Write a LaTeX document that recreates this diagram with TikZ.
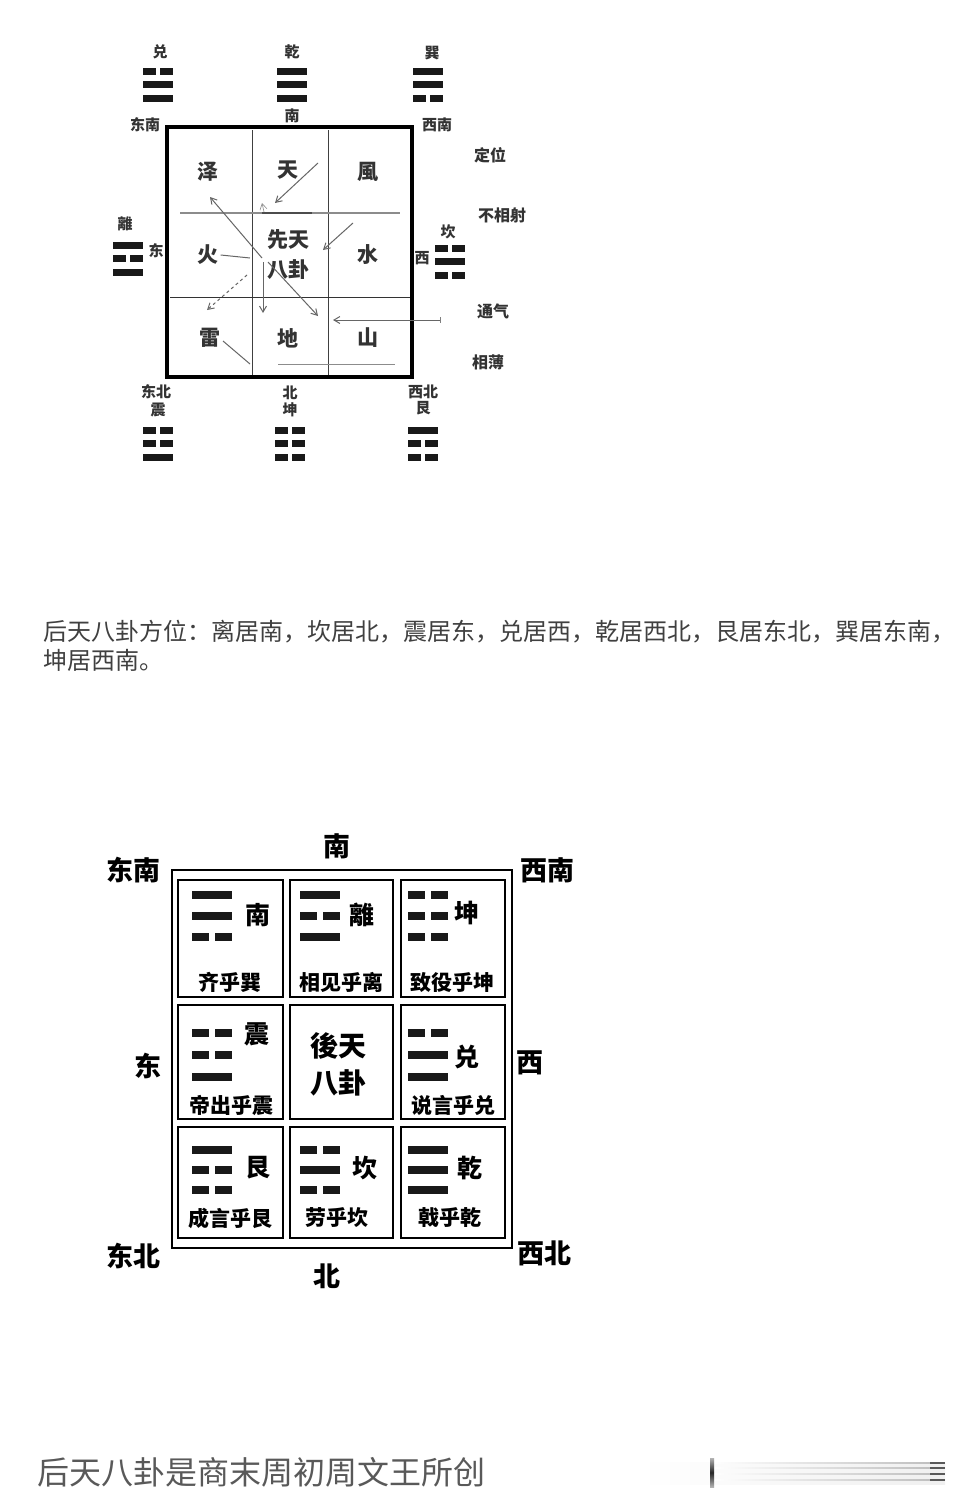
\documentclass[tikz,border=0pt]{standalone}
\usepackage{fontspec}
\newfontfamily\cjk{Noto Sans CJK SC}
\usetikzlibrary{arrows.meta}
\newcommand\yaoline[5]{\ifnum#5=1 \fill[black!90] (#1,#2-#4/2) rectangle ++(#3,#4);\else \fill[black!90] (#1,#2-#4/2) rectangle ++(0.42*#3,#4); \fill[black!90] (#1+0.58*#3,#2-#4/2) rectangle ++(0.42*#3,#4);\fi}
\newcommand\gua[8]{\yaoline{#1}{#2}{#3}{#5}{#6}\yaoline{#1}{#2+#4}{#3}{#5}{#7}\yaoline{#1}{#2+2*#4}{#3}{#5}{#8}}
\begin{document}
\begin{tikzpicture}[x=1pt,y=-1pt,
  lab/.style={font=\cjk\bfseries\fontsize{15}{15}\selectfont, text=black!80, inner sep=0},
  cell/.style={font=\cjk\bfseries\fontsize{21}{21}\selectfont, text=black!80, inner sep=0},
  side/.style={font=\cjk\bfseries\fontsize{16}{16}\selectfont, text=black!80, inner sep=0},
  arr/.style={draw=black!60, line width=1pt, -{Straight Barb[length=6pt,width=7pt]}},
  ln/.style={draw=black!60, line width=1pt},
  big/.style={font=\cjk\bfseries\fontsize{27}{27}\selectfont, inner sep=0},
  gname/.style={font=\cjk\bfseries\fontsize{25}{25}\selectfont, inner sep=0},
  phrase/.style={font=\cjk\bfseries\fontsize{21}{21}\selectfont, inner sep=0},
  box/.style={draw, line width=2pt}]
\useasboundingbox (0,0) rectangle (966,1507);
\fill[white] (0,0) rectangle (966,1507);

% ===== Top diagram (Xiantian) =====
\draw[line width=3.2pt] (167,127) rectangle (412,377);
\draw[line width=1pt, black!75] (252,130) -- (252,375);
\draw[line width=1pt, black!75] (328,130) -- (328,375);
\draw[line width=1pt, black!80] (170,297) -- (410,297);
\draw[line width=1.6pt, black!45] (180,213) -- (400,213);
\draw[line width=1.4pt, black!70] (262,213) -- (312,213);
\draw[line width=1pt, black!45] (278,364) -- (395,364);

\node[cell] (ze) at (208,172) {泽};
\node[cell] (tian) at (288,170) {天};
\node[cell] (feng) at (368,172) {風};
\node[cell] (huo) at (208,255) {火};
\node[cell] (xt) at (288,240) {先天};
\node[cell] (bg) at (288,270) {八卦};
\node[cell] (shui) at (368,255) {水};
\node[cell] (lei) at (210,338) {雷};
\node[cell] (di) at (288,338) {地};
\node[cell] (shan) at (368,338) {山};

\coordinate (c0) at (262,258);
\coordinate (ta) at (318,163); \coordinate (tb) at (275,203);
\coordinate (zb) at (210,197);
\coordinate (hb) at (250,258);
\coordinate (sa) at (353,223); \coordinate (sb) at (323,250);
\coordinate (la) at (247,275); \coordinate (lb) at (207,310);
\coordinate (da) at (263,262); \coordinate (db) at (263,313);
\coordinate (ea) at (268,262); \coordinate (eb) at (318,316);
\coordinate (ma) at (440,320); \coordinate (mb) at (333,320);
\coordinate (ra) at (223,341); \coordinate (rb) at (250,364);
\coordinate (ka) at (264,212); \coordinate (kb) at (262,203);

\draw[arr] (ta) -- (tb);
\draw[arr] (c0) -- (zb);
\draw[ln] (huo.east) ++(2,0) -- (hb);
\draw[arr] (sa) -- (sb);
\draw[arr, dashed] (la) -- (lb);
\draw[arr] (da) -- (db);
\draw[arr] (ea) -- (eb);
\draw[arr] (ma) -- (mb);
\draw[ln] (ra) -- (rb);
\draw[arr, black!45, line width=0.6pt] (ka) -- (kb);
\draw[ln, black!50, line width=0.6pt] (ma) ++(0,-3) -- ++(0,6);

% trigrams around top
\node[lab] (tdui) at (160,52) {兑};
\node[lab] (tqian) at (292,52) {乾};
\node[lab] (txun) at (432,53) {巽};
\node[lab] (tnan) at (292,116) {南};
\node[lab] (tdn) at (145,125) {东南};
\node[lab] (txn) at (437,125) {西南};
\node[lab] (tli) at (125,224) {離};
\node[lab] (tdong) at (156,251) {东};
\node[lab] (tkan) at (448,232) {坎};
\node[lab] (txi) at (422,258) {西};
\node[lab] (tdb) at (156,392) {东北};
\node[lab] (tzhen) at (158,410) {震};
\node[lab] (tbei) at (290,393) {北};
\node[lab] (tkun) at (290,410) {坤};
\node[lab] (txb) at (423,392) {西北};
\node[lab] (tgen) at (423,408) {艮};

\gua{143}{71}{30}{13.5}{7}{0}{1}{1}
\gua{277}{71}{30}{13.5}{7}{1}{1}{1}
\gua{413}{71}{30}{13.5}{7}{1}{1}{0}
\gua{113}{245}{30}{13.5}{7}{1}{0}{1}
\gua{435}{248}{30}{13.5}{7}{0}{1}{0}
\gua{143}{430}{30}{13.5}{7}{0}{0}{1}
\gua{275}{430}{30}{13.5}{7}{0}{0}{0}
\gua{408}{430}{30}{13.5}{7}{1}{0}{0}

\node[side] (dw) at (490,155) {定位};
\node[side] (bxs) at (502,215) {不相射};
\node[side] (tq) at (493,311) {通气};
\node[side] (xb) at (488,362) {相薄};

% ===== Caption =====
\node[anchor=west, inner sep=0, text=black!75, font=\cjk\fontsize{24}{24}\selectfont] (cap1) at (43,632) {后天八卦方位：离居南，坎居北，震居东，兑居西，乾居西北，艮居东北，巽居东南，};
\node[anchor=west, inner sep=0, text=black!75, font=\cjk\fontsize{24}{24}\selectfont] (cap2) at (43,660) {坤居西南。};

% ===== Bottom diagram (Houtian) =====
\draw[line width=2.5pt] (172,870) rectangle (512,1248);
\draw[box] (178,880) rectangle (283,997);
\draw[box] (290,880) rectangle (393,997);
\draw[box] (401,880) rectangle (505,997);
\draw[box] (178,1005) rectangle (283,1119);
\draw[box] (290,1005) rectangle (393,1119);
\draw[box] (401,1005) rectangle (505,1119);
\draw[box] (178,1127) rectangle (283,1238);
\draw[box] (290,1127) rectangle (393,1238);
\draw[box] (401,1127) rectangle (505,1238);

\node[big] (bnan) at (337,846) {南};
\node[big] (bdn) at (133,870) {东南};
\node[big] (bxn) at (547,870) {西南};
\node[big] (bdong) at (148,1066) {东};
\node[big] (bxi) at (530,1063) {西};
\node[big] (bdb) at (133,1256) {东北};
\node[big] (bbei) at (327,1276) {北};
\node[big] (bxb) at (544,1253) {西北};

\gua{192}{895}{40}{21}{8}{1}{1}{0}
\gua{300}{895}{40}{21}{8}{1}{0}{1}
\gua{408}{895}{40}{21}{8}{0}{0}{0}
\gua{192}{1033}{40}{22}{8}{0}{0}{1}
\gua{408}{1033}{40}{22}{8}{0}{1}{1}
\gua{192}{1150}{40}{20}{8}{1}{0}{0}
\gua{300}{1150}{40}{20}{8}{0}{1}{0}
\gua{408}{1150}{40}{20}{8}{1}{1}{1}

\node[gname] (g11) at (258,915) {南};
\node[gname] (g12) at (362,915) {離};
\node[gname] (g13) at (467,913) {坤};
\node[gname] (g21) at (257,1034) {震};
\node[gname] (g23) at (467,1057) {兑};
\node[gname] (g31) at (258,1168) {艮};
\node[gname] (g32) at (365,1168) {坎};
\node[gname] (g33) at (470,1168) {乾};
\node[font=\cjk\bfseries\fontsize{28}{28}\selectfont, inner sep=0] (ht) at (338,1046) {後天};
\node[font=\cjk\bfseries\fontsize{28}{28}\selectfont, inner sep=0] (hbg) at (338,1083) {八卦};

\node[phrase] (p11) at (230,982) {齐乎巽};
\node[phrase] (p12) at (341,982) {相见乎离};
\node[phrase] (p13) at (452,982) {致役乎坤};
\node[phrase] (p21) at (231,1105) {帝出乎震};
\node[phrase] (p23) at (453,1105) {说言乎兑};
\node[phrase] (p31) at (230,1218) {成言乎艮};
\node[phrase] (p32) at (337,1218) {劳乎坎};
\node[phrase] (p33) at (450,1218) {戟乎乾};

% ===== Footer =====
\node[anchor=west, inner sep=0, text=black!65, font=\cjk\fontsize{32}{32}\selectfont] (foot) at (37,1472) {后天八卦是商末周初周文王所创};
\shade[left color=white, right color=black!6] (640,1462) rectangle (945,1484);
\foreach \yy in {1463,1468,1474,1480} {
  \shade[left color=white, right color=black!25] (712,\yy-0.4) rectangle (930,\yy+0.4);
  \fill[black!65] (930,\yy-0.8) rectangle (945,\yy+0.8);
}
\shade[top color=black!30, bottom color=black!30, middle color=black!85] (710,1458) rectangle (714,1487);
\end{tikzpicture}
\end{document}
